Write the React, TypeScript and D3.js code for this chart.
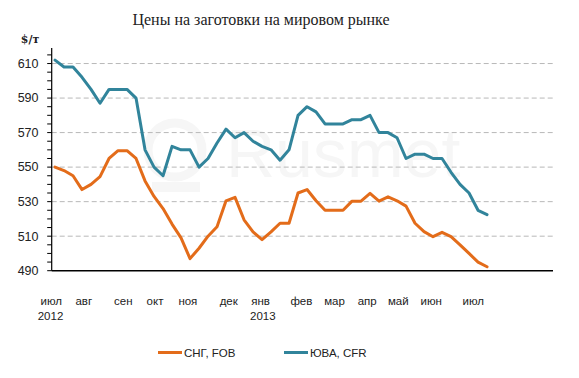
import React from 'react';
import * as d3 from 'd3';

const TITLE = 'Цены на заготовки на мировом рынке';
const UNIT = '$/т';
const WATERMARK = 'Rusmet';

// weekly prices, $/t
const cisFob = [550, 548, 545, 537, 540, 544.5, 555, 559.5, 559.5, 555, 542, 533, 526, 517, 509, 497, 503, 510, 515.5, 530.5, 532.5, 519.5, 512.5, 508, 512.5, 517.5, 517.5, 535, 537, 530.5, 525, 525, 525, 530.3, 530.3, 534.8, 530.3, 532.8, 530.5, 527.4, 517.5, 512.6, 509.7, 512.2, 509.7, 505, 500, 495, 492.3];
const seaCfr = [612, 608, 608, 602, 595, 587, 595, 595, 595, 590, 560, 550, 545, 562, 560, 560, 550, 555, 564, 572, 567, 570, 565, 562, 560, 554, 560, 580, 585, 582, 575, 575, 575, 577.5, 577.5, 580, 570, 570, 567, 555, 557.5, 557.5, 555, 555, 547, 540, 535, 525, 522.5];
const seriesNames = ['СНГ, FOB', 'ЮВА, CFR'];
const seriesColors = ['#E36C1A', '#31849B'];

const monthLabels = ['июл', 'авг', 'сен', 'окт', 'ноя', 'дек', 'янв', 'фев', 'мар', 'апр', 'май', 'июн', 'июл'];
const monthPos = [-0.42, 3.2, 7.59, 11.11, 14.76, 19.3, 22.83, 27.37, 31.06, 34.69, 38.14, 41.8, 46.48];
const yearLabels = ['2012', '2013'];
const yearPos = [-0.5, 23.09];
const yTicks = [490, 510, 530, 550, 570, 590, 610];

const W = 579;
const H = 378;

export default function App() {
  const x = d3.scaleLinear().domain([-0.37, 55.33]).range([51.7, 553]);
  const y = d3.scaleLinear().domain([490, 619]).range([270.7, 48]);
  const minorTicks = d3.range(490, 620, 5);
  const line = d3
    .line<number>()
    .x((_, i) => x(i))
    .y((d) => y(d));
  const series = [cisFob, seaCfr];
  const sans = "'Liberation Sans', Arial, sans-serif";
  const legendX = [158, 284];
  const wm = '#f6f6f6';

  return (
    <svg
      width={W}
      height={H}
      style={{ position: 'absolute', left: 0, top: 0, background: '#fff' }}
    >
      <rect x={0} y={0} width={W} height={H} fill="#fff" />
      {/* watermark */}
      <g fill={wm}>
        <circle cx={175} cy={150} r={27} fill="none" stroke={wm} strokeWidth={9} />
        <rect x={152} y={182} width={48} height={10} />
        <text x={226} y={177} fontFamily={sans} fontSize={68}>
          {WATERMARK}
        </text>
      </g>
      <text
        x={261}
        y={25}
        textAnchor="middle"
        fontFamily="'Liberation Serif', serif"
        fontSize={16}
        fill="#222"
      >
        {TITLE}
      </text>
      <text
        x={30}
        y={43}
        textAnchor="middle"
        fontFamily="'DejaVu Serif', serif"
        fontWeight="bold"
        fontSize={11}
        fill="#222"
      >
        {UNIT}
      </text>
      {/* grid */}
      {yTicks
        .filter((t) => t !== 490)
        .map((t) => (
          <line
            key={'g' + t}
            x1={x.range()[0]}
            x2={x.range()[1]}
            y1={y(t)}
            y2={y(t)}
            stroke="#b8b8b8"
            strokeDasharray="5,3"
            strokeWidth={1}
          />
        ))}
      {/* y axis */}
      <line x1={51.7} x2={51.7} y1={y.range()[1]} y2={y.range()[0]} stroke="#000" strokeWidth={1.2} />
      {minorTicks.map((t) => (
        <line key={'m' + t} x1={47.2} x2={51.7} y1={y(t)} y2={y(t)} stroke="#000" strokeWidth={1} />
      ))}
      {yTicks.map((t) => (
        <text
          key={'yl' + t}
          x={38.5}
          y={y(t)}
          dy="0.35em"
          textAnchor="end"
          fontFamily={sans}
          fontSize={12.5}
          fill="#222"
        >
          {t}
        </text>
      ))}
      {/* x axis */}
      <line x1={x.range()[0]} x2={x.range()[1]} y1={y(490)} y2={y(490)} stroke="#000" strokeWidth={1.5} />
      {monthLabels.map((m, i) => (
        <text
          key={'ml' + i}
          x={x(monthPos[i])}
          y={305}
          textAnchor="middle"
          fontFamily={sans}
          fontSize={11.5}
          fill="#222"
        >
          {m}
        </text>
      ))}
      {yearLabels.map((m, i) => (
        <text
          key={'yr' + i}
          x={x(yearPos[i])}
          y={320}
          textAnchor="middle"
          fontFamily={sans}
          fontSize={11.5}
          fill="#222"
        >
          {m}
        </text>
      ))}
      {/* series */}
      {series.map((s, i) => (
        <path
          key={'s' + i}
          d={line(s) || ''}
          fill="none"
          stroke={seriesColors[i]}
          strokeWidth={3}
          strokeLinejoin="round"
          strokeLinecap="round"
        />
      ))}
      {/* legend */}
      {seriesNames.map((n, i) => (
        <g key={'lg' + i}>
          <line
            x1={legendX[i]}
            x2={legendX[i] + 24}
            y1={352.5}
            y2={352.5}
            stroke={seriesColors[i]}
            strokeWidth={3}
          />
          <text
            x={legendX[i] + 26}
            y={352.5}
            dy="0.35em"
            fontFamily={sans}
            fontSize={11.5}
            fill="#222"
          >
            {n}
          </text>
        </g>
      ))}
    </svg>
  );
}
